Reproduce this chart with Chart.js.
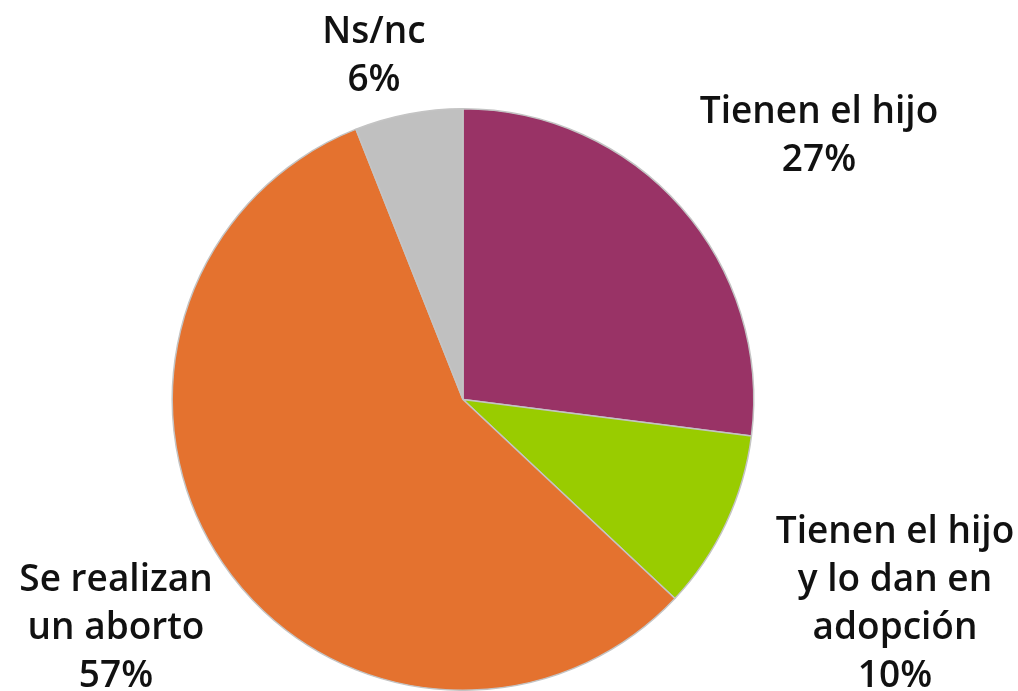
<!DOCTYPE html>
<html>
<head>
<meta charset="utf-8">
<script src="https://cdn.jsdelivr.net/npm/chart.js@4"></script>
<style>
  html, body { margin: 0; padding: 0; background: #fff; }
  #wrap { width: 1018px; height: 691px; position: relative; }
</style>
</head>
<body>
<div id="wrap"><canvas id="chart-pie"></canvas></div>
<script>
// Data
const labels = ['Tienen el hijo', 'Tienen el hijo y lo dan en adopción', 'Se realizan un aborto', 'Ns/nc'];
const values = [27, 10, 57, 6];
const colors = ['#993366', '#99CC00', '#E4722F', '#C0C0C0'];
// Label lines as shown on the chart, and where each text block sits
const labelLines = [
  ['Tienen el hijo', '27%'],
  ['Tienen el hijo', 'y lo dan en', 'adopción', '10%'],
  ['Se realizan', 'un aborto', '57%'],
  ['Ns/nc', '6%'],
];
const labelPos = [[819, 112], [895, 532], [116, 580], [374, 32]];

const FONT = '"Open Sans", sans-serif';

const textLabels = {
  id: 'textLabels',
  afterDraw(chart) {
    const ctx = chart.ctx;
    ctx.save();
    ctx.fillStyle = '#111';
    ctx.font = '600 37px ' + FONT;
    ctx.textAlign = 'center';
    ctx.textBaseline = 'middle';
    labelLines.forEach((lines, i) => {
      const [x, y] = labelPos[i];
      lines.forEach((t, j) => ctx.fillText(t, x, y + j * 48));
    });
    ctx.restore();
  },
};

new Chart(document.getElementById('chart-pie'), {
  type: 'pie',
  data: {
    labels: labels,
    datasets: [{
      data: values,
      backgroundColor: colors,
      borderColor: '#C4C4C4',
      borderWidth: 1.5,
    }],
  },
  options: {
    responsive: true,
    maintainAspectRatio: false,
    animation: false,
    layout: { padding: { left: 171, right: 263, top: 108, bottom: 0 } },
    plugins: {
      legend: { display: false },
      tooltip: { enabled: false },
    },
  },
  plugins: [textLabels],
});
</script>
</body>
</html>
